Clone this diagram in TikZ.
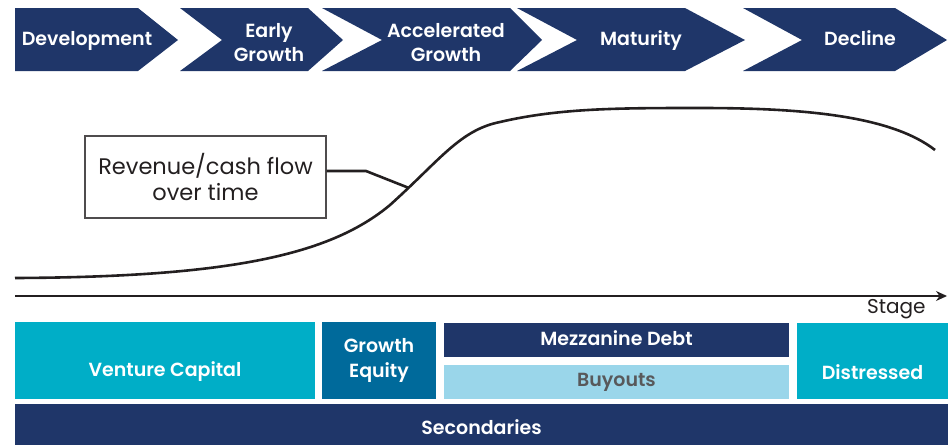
\documentclass[tikz,border=0pt]{standalone}
\usepackage{fontspec}
\setmainfont{Poppins}[BoldFont={Poppins SemiBold}]
\usetikzlibrary{positioning,arrows.meta}
\definecolor{navy}{RGB}{31,54,105}
\definecolor{vccyan}{RGB}{0,174,199}
\definecolor{geblue}{RGB}{0,106,155}
\definecolor{buyblue}{RGB}{154,214,234}
\definecolor{buygray}{RGB}{88,89,91}
\definecolor{inkgray}{RGB}{35,31,32}

\begin{document}
\begin{tikzpicture}[x=1pt,y=-1pt,
  stagetext/.style={text=white, align=center, font=\fontsize{19}{24}\selectfont\bfseries},
  blockbox/.style={inner sep=0pt, outer sep=0pt},
  blocktext/.style={text=white, align=center, font=\fontsize{19}{25}\selectfont\bfseries},
  curveline/.style={draw=inkgray, line width=2.6pt},
]
\useasboundingbox (0,0) rectangle (952,445);

% stages
\fill[navy] (15,8) -- (138,8) -- (178,40) -- (138,71) -- (15,71) -- cycle;
\fill[navy] (180,8) -- (308,8) -- (343,40) -- (308,71) -- (180,71) -- (222,40) -- cycle;
\fill[navy] (322,8) -- (510,8) -- (542,40) -- (510,71) -- (322,71) -- (382,40) -- cycle;
\fill[navy] (517,8) -- (685,8) -- (745,40) -- (685,71) -- (517,71) -- (577,40) -- cycle;
\fill[navy] (743,8) -- (895,8) -- (947,40) -- (895,71) -- (743,71) -- (802,40) -- cycle;
\node[stagetext] (dev) at (87,41) {Development};
\node[stagetext] (early) at (269,43) {Early\\Growth};
\node[stagetext] (accel) at (446,43) {Accelerated\\Growth};
\node[stagetext] (mature) at (641,41) {Maturity};
\node[stagetext] (decline) at (860,38) {Decline};

% revenue curve
\draw[curveline] (15,278) .. controls (230,277) and (330,255) .. (390,205)
  .. controls (440,160) and (460,130) .. (500,122)
  .. controls (560,108) and (620,108) .. (700,108)
  .. controls (800,108) and (890,115) .. (935,150);

\node[draw=inkgray!80, line width=1.2pt, minimum width=241pt, minimum height=82pt,
  align=center, text=inkgray, font=\fontsize{22.5}{26}\selectfont] (revbox) at (205.5,177)
  {Revenue/cash flow\\over time};
\coordinate (boxout) at ([yshift=6pt]revbox.east);
\coordinate (bend) at (366,171);
\coordinate (oncurve) at (409,188);
\draw[curveline] (boxout) -- (bend) -- (oncurve);

% axis
\coordinate (origin) at (15,296);
\coordinate (axisend) at (947,296);
\draw[draw=inkgray, line width=1.3pt, -{Stealth[length=11pt,width=10pt]}] (origin) -- (axisend);
\node[text=inkgray, font=\fontsize{20}{22}\selectfont, anchor=east] (stage) at (929,309) {Stage};

% strategies
\node[blockbox, fill=vccyan, minimum width=300pt, minimum height=77pt] (vc) at (165,360.5) {};
\node[blockbox, fill=geblue, minimum width=114pt, minimum height=77pt] (ge) at (379,360.5) {};
\node[blockbox, fill=navy, minimum width=345pt, minimum height=34pt] (mezz) at (616.5,340) {};
\node[blockbox, fill=buyblue, minimum width=345pt, minimum height=34pt] (buy) at (616.5,382) {};
\node[blockbox, fill=vccyan, minimum width=151pt, minimum height=76pt] (dist) at (872.5,361) {};
\node[blockbox, fill=navy, minimum width=933pt, minimum height=41pt] (sec) at (481.5,424.5) {};

\node[blocktext] (vctext) at ([yshift=-11pt]vc.center) {Venture Capital};
\node[blocktext] (getext) at (ge.center) {Growth\\Equity};
\node[blocktext] (mezztext) at ([yshift=2pt]mezz.center) {Mezzanine Debt};
\node[blocktext, text=buygray] (buytext) at (buy.center) {Buyouts};
\node[blocktext] (disttext) at ([yshift=-11pt]dist.center) {Distressed};
\node[blocktext] (sectext) at ([yshift=-3pt]sec.center) {Secondaries};
\end{tikzpicture}
\end{document}
